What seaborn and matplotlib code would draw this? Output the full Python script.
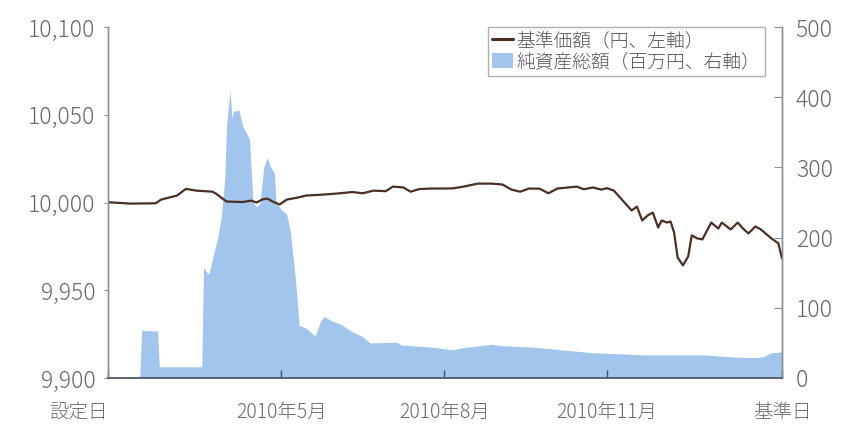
import pandas as pd
import matplotlib
matplotlib.use('Agg')
import matplotlib.pyplot as plt
from matplotlib.lines import Line2D
from matplotlib.patches import Patch
import seaborn as sns

# 基準価額 (円, left axis)
price_dates = ['2010-01-23', '2010-02-05', '2010-02-19', '2010-02-22', '2010-03-03', '2010-03-08',
               '2010-03-14', '2010-03-23', '2010-03-25', '2010-03-31', '2010-04-09', '2010-04-14',
               '2010-04-17', '2010-04-20', '2010-04-23', '2010-04-26', '2010-04-30', '2010-05-04',
               '2010-05-10', '2010-05-15', '2010-05-24', '2010-06-01', '2010-06-10', '2010-06-16',
               '2010-06-22', '2010-06-29', '2010-07-03', '2010-07-09', '2010-07-13', '2010-07-18',
               '2010-07-25', '2010-07-31', '2010-08-06', '2010-08-12', '2010-08-20', '2010-08-28',
               '2010-09-03', '2010-09-08', '2010-09-13', '2010-09-18', '2010-09-24', '2010-09-29',
               '2010-10-04', '2010-10-10', '2010-10-15', '2010-10-19', '2010-10-24', '2010-10-29',
               '2010-11-01', '2010-11-05', '2010-11-11', '2010-11-15', '2010-11-18', '2010-11-21',
               '2010-11-24', '2010-11-27', '2010-11-30', '2010-12-02', '2010-12-05', '2010-12-07',
               '2010-12-09', '2010-12-11', '2010-12-14', '2010-12-17', '2010-12-19', '2010-12-22',
               '2010-12-25', '2010-12-30', '2011-01-03', '2011-01-05', '2011-01-10', '2011-01-14',
               '2011-01-17', '2011-01-20', '2011-01-24', '2011-01-27', '2011-02-02', '2011-02-06',
               '2011-02-08']
price_values = [10000.2, 9999.4, 9999.6, 10001.7, 10004.0, 10007.8,
                10006.8, 10006.2, 10005.1, 10000.6, 10000.3, 10001.1,
                10000.0, 10001.7, 10002.3, 10000.6, 9998.9, 10001.7,
                10002.8, 10004.0, 10004.5, 10005.1, 10006.0, 10005.3,
                10006.8, 10006.5, 10009.1, 10008.6, 10006.2, 10007.7,
                10008.0, 10008.0, 10008.1, 10009.1, 10010.8, 10010.8,
                10010.3, 10007.4, 10006.2, 10008.0, 10007.9, 10005.3,
                10008.0, 10008.6, 10009.1, 10007.6, 10008.6, 10007.4,
                10008.2, 10006.8, 10000.0, 9995.5, 9997.7, 9989.8,
                9992.6, 9994.3, 9985.8, 9989.8, 9988.6, 9989.2,
                9983.0, 9968.8, 9964.2, 9969.3, 9981.3, 9979.6,
                9979.0, 9988.6, 9985.2, 9988.6, 9984.7, 9988.6,
                9985.2, 9982.4, 9986.4, 9984.7, 9979.6, 9976.7,
                9968.2]

# 純資産総額 (百万円, right axis)
nav_dates = ['2010-01-23', '2010-02-08', '2010-02-10', '2010-02-11', '2010-02-20', '2010-02-21',
             '2010-03-17', '2010-03-18', '2010-03-20', '2010-03-21', '2010-03-24', '2010-03-26',
             '2010-03-28', '2010-03-30', '2010-03-31', '2010-04-02', '2010-04-03', '2010-04-04',
             '2010-04-07', '2010-04-09', '2010-04-11', '2010-04-13', '2010-04-15', '2010-04-17',
             '2010-04-19', '2010-04-21', '2010-04-23', '2010-04-25', '2010-04-27', '2010-04-28',
             '2010-05-01', '2010-05-04', '2010-05-06', '2010-05-09', '2010-05-11', '2010-05-15',
             '2010-05-20', '2010-05-23', '2010-05-25', '2010-05-29', '2010-06-04', '2010-06-10',
             '2010-06-16', '2010-06-20', '2010-07-05', '2010-07-08', '2010-07-25', '2010-08-06',
             '2010-08-11', '2010-08-28', '2010-09-03', '2010-09-20', '2010-10-07', '2010-10-24',
             '2010-11-04', '2010-11-21', '2010-12-25', '2011-01-11', '2011-01-22', '2011-01-28',
             '2011-02-02', '2011-02-08']
nav_values = [0, 0, 4, 68, 67, 16,
              16, 158, 150, 148, 180, 200,
              230, 283, 360, 410, 370, 380,
              382, 360, 350, 340, 250, 244,
              250, 300, 314, 300, 293, 250,
              240, 233, 210, 140, 75, 71,
              60, 80, 88, 82, 76, 66,
              59, 50, 51, 47, 44, 40,
              43, 48, 46, 44, 40, 36,
              35, 33, 33, 30, 29, 30,
              36, 37]

tick_dates = ['2010-01-23', '2010-05-01', '2010-08-01', '2010-11-01', '2011-02-08']
tick_labels = ['設定日', '2010年5月', '2010年8月', '2010年11月', '基準日']
left_ticks = [9900, 9950, 10000, 10050, 10100]
right_ticks = [0, 100, 200, 300, 400, 500]
legend_labels = ['基準価額（円、左軸）', '純資産総額（百万円、右軸）']

sns.set_theme(style='white')
plt.rcParams['font.family'] = ['Noto Sans CJK JP', 'DejaVu Sans']

line_color = '#4b2f23'
area_color = '#a2c5ee'
text_color = '#6a6a6a'
spine_color = '#8a8f99'

price = pd.DataFrame({'date': pd.to_datetime(price_dates), 'price': price_values})
nav = pd.DataFrame({'date': pd.to_datetime(nav_dates), 'nav': nav_values})

fig = plt.figure(figsize=(8.44, 4.24), dpi=100)
ax = fig.add_axes([0.128, 0.1085, 0.7985, 0.8275])
ax2 = ax.twinx()

ax2.fill_between(nav['date'], 0, nav['nav'], color=area_color, lw=0)
sns.lineplot(data=price, x='date', y='price', ax=ax, color=line_color, lw=1.6)
ax.set_zorder(ax2.get_zorder() + 1)
ax.patch.set_visible(False)

ax.set_xlim(pd.Timestamp(tick_dates[0]), pd.Timestamp(tick_dates[-1]))
ax.set_ylim(left_ticks[0], left_ticks[-1])
ax2.set_ylim(right_ticks[0], right_ticks[-1])

ax.set_yticks(left_ticks)
ax.set_yticklabels([f'{v:,}' for v in left_ticks], fontweight='light')
ax2.set_yticks(right_ticks)
ax2.set_yticklabels([str(v) for v in right_ticks], fontweight='light')
ax.set_xticks(pd.to_datetime(tick_dates))
ax.set_xticklabels(tick_labels, fontweight='light')
ax.set_xlabel('')
ax.set_ylabel('')

ax.tick_params(axis='y', direction='out', length=3, width=0.8, color=spine_color,
               labelsize=16.5, labelcolor=text_color, pad=6, left=True)
ax2.tick_params(axis='y', direction='in', length=6, width=0.8, color=spine_color,
                labelsize=16.5, labelcolor=text_color, pad=10, right=True)
ax.tick_params(axis='x', direction='in', length=6, width=1, color='#4a4f5a',
               labelsize=14, labelcolor=text_color, pad=17, bottom=True)
xl = ax.get_xticklabels()
xl[0].set_ha('right')

for a in (ax, ax2):
    a.spines['top'].set_visible(False)
    for s in ('left', 'right'):
        a.spines[s].set_color(spine_color)
        a.spines[s].set_linewidth(1)
    a.spines['bottom'].set_color('#5b6270')
    a.spines['bottom'].set_linewidth(1.2)
    a.grid(False)

handles = [Line2D([0], [0], color=line_color, lw=2.2),
           Patch(facecolor=area_color, edgecolor='none')]
leg = ax.legend(handles, legend_labels, loc='upper right', bbox_to_anchor=(0.975, 1.0),
                frameon=True, fancybox=False, edgecolor='#9a9a9a', fontsize=13.5,
                handlelength=1.1, handleheight=0.9, handletextpad=0.2, borderpad=0.25,
                labelspacing=0.15, borderaxespad=0, prop={'weight': 'light', 'size': 13.5})
leg.get_frame().set_linewidth(1)
for t in leg.get_texts():
    t.set_color('#555555')

fig.savefig('out.png', dpi=100)
